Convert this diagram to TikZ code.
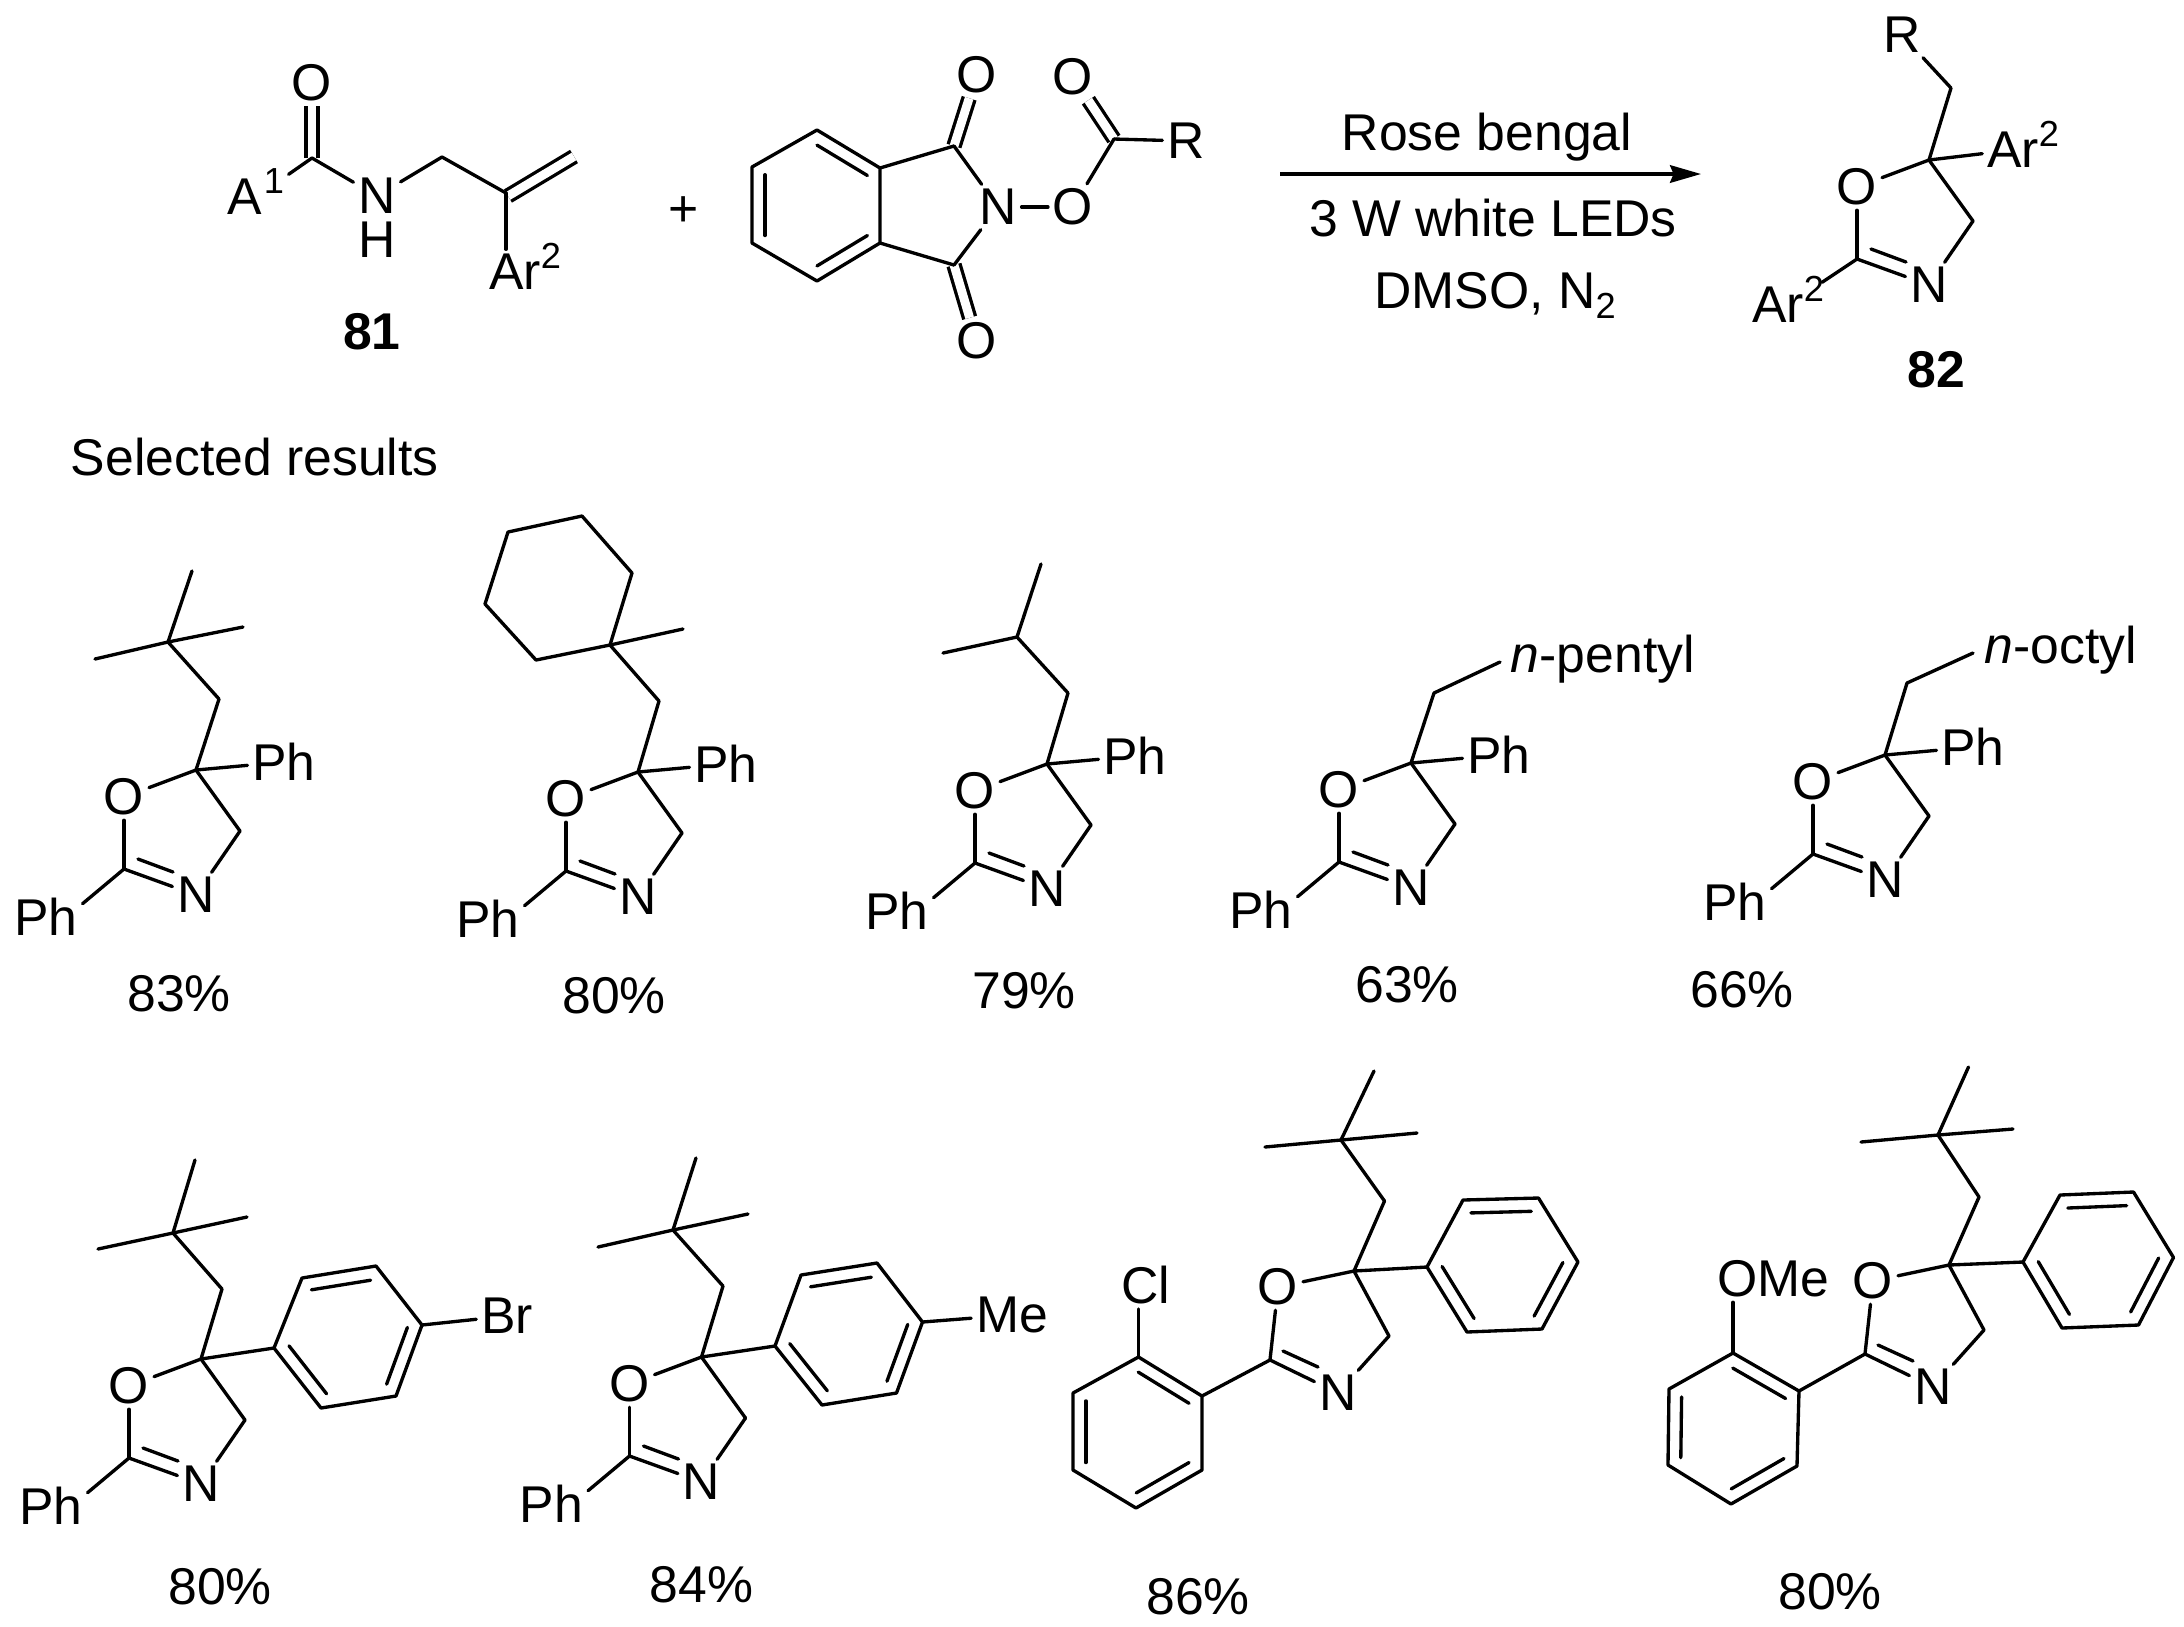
\documentclass[tikz,border=0pt]{standalone}
\usepackage{fontspec}
\setmainfont{Liberation Sans}
\usetikzlibrary{arrows.meta,calc}

\tikzset{
  txt/.style={font=\fontsize{14.7}{17}\selectfont,inner sep=1.4pt,outer sep=0pt},
  dbl/.style={double,double distance=2.5pt,line cap=butt},
  thin line/.style={draw=black,line width=.95pt,line cap=round,line join=round}
}

\newcommand{\supr}[1]{\smash{\raisebox{6pt}{\fontsize{10.3}{12}\selectfont #1}}}
\newcommand{\subr}[1]{\smash{\raisebox{-3pt}{\fontsize{10.3}{12}\selectfont #1}}}

% ring bonds of the oxazoline
\newcommand{\oxabonds}[1]{%
  \path (#1-c) edge (#1-o) (#1-o) edge (#1-c2) (#1-c2) edge (#1-n);
  \path (#1-n) edge (#1-ch) (#1-ch) edge (#1-c) (#1-d1) edge (#1-d2);
}
% neopentyl arm
\newcommand{\neopentyl}[6]{%
  \coordinate (#1-a) at (#2);
  \coordinate (#1-b) at (#3);
  \coordinate (#1-m1) at (#4);
  \coordinate (#1-m2) at (#5);
  \coordinate (#1-m3) at (#6);
  \path (#1-c) edge (#1-a) (#1-a) edge (#1-b);
  \path (#1-b) edge (#1-m1) (#1-b) edge (#1-m2) (#1-b) edge (#1-m3);
}
% benzene ring, double bonds on 1-2, 3-4, 5-6
\newcommand{\benzring}[7]{%
  \coordinate (#1-1) at (#2);
  \coordinate (#1-2) at (#3);
  \coordinate (#1-3) at (#4);
  \coordinate (#1-4) at (#5);
  \coordinate (#1-5) at (#6);
  \coordinate (#1-6) at (#7);
  \coordinate (#1-x) at ($(#1-1)!.5!(#1-4)$);
  \draw [thin line] (#1-1) -- (#1-2) -- (#1-3) -- (#1-4) -- (#1-5) -- (#1-6) -- cycle;
  \foreach \u/\v in {1/2,3/4,5/6}
    \path ($(#1-\u)!.2!(#1-x)$) edge ($(#1-\v)!.2!(#1-x)$);
}

\begin{document}
\begin{tikzpicture}[x=.01cm,y=-.01cm,
    every node/.style={txt},
    every edge/.style={thin line},
    >={Stealth[black,length=8.8pt,width=5pt,inset=1pt]}]
\useasboundingbox (0,0) rectangle (2184,1626);

% amide 81
\coordinate (am-c) at (312,158);
\coordinate (am-ch) at (442,157);
\coordinate (am-v) at (506,193);
\coordinate (am-w) at (508,196);
\coordinate (am-e) at (574,156.5);
\node (am-o) at (312,83) {O};
\node (am-a) at (256,197) {A\kern.4pt\supr{1}};
\node (am-n) at (377,196) {N};
\node (am-h) at (377,240) {H};
\node (am-ar) at (515,272) {Ar\rlap{\supr{2}}};
\node (am-lab) at (372,332) {\bfseries 81};
\path (am-c) edge[dbl] (am-o) (am-w) edge[dbl] (am-e);
\path (am-c) edge (am-a) (am-c) edge (am-n) (am-n) edge (am-ch);
\path (am-ch) edge (am-v) (am-v) edge (am-v |- am-ar.north);

\node (plus) at (684,212) {+};

% N-acyloxyphthalimide
\benzring{ph}{817,130}{880,168}{880,243}{817,281}{752,243}{752,167}
\coordinate (ph-c1) at (954,146);
\coordinate (ph-c2) at (954,265);
\coordinate (ph-c3) at (1114,139);
\node (ph-n) at (998,207) {N};
\node (ph-o1) at (976.5,75) {O};
\node (ph-o2) at (976.5,341) {O};
\node (ph-o3) at (1073,207) {O};
\node (ph-o4) at (1073,77) {O};
\node (ph-r) at (1186,141) {R};
\path (ph-c1) edge[dbl] (ph-o1) (ph-c2) edge[dbl] (ph-o2) (ph-c3) edge[dbl] (ph-o4);
\path (ph-2) edge (ph-c1) (ph-c1) edge (ph-n) (ph-3) edge (ph-c2) (ph-c2) edge (ph-n);
\path (ph-n) edge (ph-o3) (ph-o3) edge (ph-c3) (ph-c3) edge (ph-r);

% arrow and conditions
\coordinate (arr-s) at (1280,174);
\coordinate (arr-e) at (1701,174);
\path [->] (arr-s) edge[line width=1pt,line cap=butt] (arr-e);
\node [anchor=base] (cond1) at (1487,150) {Rose bengal};
\node [anchor=base] (cond2) at (1493,236) {3 W white LEDs};
\node [anchor=base] (cond3) at (1495,308) {DMSO, N\subr{2}};

\node [anchor=base west] (sel) at (66,475) {Selected results};

% oxazoline core, same offsets from the quaternary carbon
\foreach \m/\cx/\cy in {pr/1929/160,a/196/770,b/638/772,c/1047/764,d/1411/763,e/1885/755,f/201/1359,g/701.5/1357}{
  \begin{scope}[shift={(\cx,\cy)}]
    \coordinate (\m-c) at (0,0);
    \coordinate (\m-c2) at (-72,99);
    \coordinate (\m-ch) at (44,61);
    \coordinate (\m-d1) at (-58,89);
    \coordinate (\m-d2) at (-23,102);
    \node (\m-o) at (-72,27) {O};
    \node (\m-n) at (0,125) {N};
  \end{scope}
  \oxabonds{\m}
}
\foreach \m/\cx/\cy in {h/1354/1271,i/1949/1265}{
  \begin{scope}[shift={(\cx,\cy)}]
    \coordinate (\m-c) at (0,0);
    \coordinate (\m-c2) at (-84,89);
    \coordinate (\m-ch) at (35,65);
    \coordinate (\m-d1) at (-71,80);
    \coordinate (\m-d2) at (-36,96);
    \node (\m-o) at (-76,16) {O};
    \node (\m-n) at (-16,122) {N};
  \end{scope}
  \oxabonds{\m}
}
% the two phenyl labels
\foreach \m/\cx/\cy in {a/196/770,b/638/772,c/1047/764,d/1411/763,e/1885/755}{
  \begin{scope}[shift={(\cx,\cy)}]
    \node (\m-p1) at (88,-8) {Ph};
    \node (\m-p2) at (-150,147) {Ph};
  \end{scope}
  \path (\m-c) edge (\m-p1) (\m-c2) edge (\m-p2.20);
}
\foreach \m/\cx/\cy in {f/201/1359,g/701.5/1357}{
  \node (\m-p2) at (\cx-150,\cy+147) {Ph};
  \path (\m-c2) edge (\m-p2.20);
}

% product 82
\coordinate (pr-a) at (1951,88);
\node (pr-r) at (1902,35) {R};
\node (pr-ar1) at (2013,150) {Ar\rlap{\supr{2}}};
\node (pr-ar2) at (1788,305) {Ar\supr{2}};
\node (pr-lab) at (1936,370) {\bfseries 82};
\path (pr-c) edge (pr-a) (pr-a) edge (pr-r) (pr-c) edge (pr-ar1) (pr-c2) edge (pr-ar2);

% side chains, first row
\neopentyl{a}{219,699}{168,642}{192,571}{243,627}{95,659}
\coordinate (b-a) at (659,701);
\coordinate (b-b) at (610,645);
\coordinate (b-me) at (683,629);
\coordinate (b-r1) at (536,660);
\coordinate (b-r2) at (485,604);
\coordinate (b-r3) at (508,532);
\coordinate (b-r4) at (582,516);
\coordinate (b-r5) at (632,573);
\path (b-c) edge (b-a) (b-a) edge (b-b) (b-b) edge (b-me);
\draw [thin line] (b-b) -- (b-r1) -- (b-r2) -- (b-r3) -- (b-r4) -- (b-r5) -- cycle;
\coordinate (c-a) at (1068,693);
\coordinate (c-b) at (1017,637);
\coordinate (c-m1) at (1041,564);
\coordinate (c-m2) at (943,653);
\path (c-c) edge (c-a) (c-a) edge (c-b) (c-b) edge (c-m1) (c-b) edge (c-m2);
\coordinate (d-a) at (1434,693);
\coordinate (d-e) at (1500,662);
\node [anchor=base west] (d-r) at (1506,672) {\textit{n}-pentyl};
\path (d-c) edge (d-a) (d-a) edge (d-e);
\coordinate (e-a) at (1907,683);
\coordinate (e-e) at (1973,653);
\node [anchor=base west] (e-r) at (1980,663) {\textit{n}-octyl};
\path (e-c) edge (e-a) (e-a) edge (e-e);

% second row
\neopentyl{f}{222,1289}{173,1233}{195,1160}{247,1217}{98,1249}
\benzring{fr}{302,1278}{376,1266}{422,1325}{396,1396}{321,1408}{274,1348}
\node (f-br) at (507,1316) {Br};
\path (f-c) edge (fr-6) (fr-3) edge (f-br);
\neopentyl{g}{723,1286}{673,1230}{696,1158}{748,1214}{598,1247}
\benzring{gr}{801,1275}{877,1263}{922.5,1322}{896.5,1393}{822,1405}{775,1346}
\node (g-me) at (1012,1315) {Me};
\path (g-c) edge (gr-6) (gr-3) edge (g-me);
\neopentyl{h}{1384.5,1201}{1341,1140}{1374,1071}{1417,1133}{1265,1147}
\benzring{hr}{1463,1200}{1538.5,1198}{1578,1262}{1542,1329}{1467,1332}{1427,1267}
\benzring{hl}{1138.5,1357}{1202,1396}{1202,1470}{1136,1508}{1073,1470}{1073,1393}
\node (h-cl) at (1146,1285) {Cl};
\path (h-c) edge (hr-6) (h-c2) edge (hl-2) (hl-1) edge (hl-1 |- h-cl.south);
\neopentyl{i}{1979,1197}{1938,1135}{1968.5,1067}{2013,1129}{1861,1142}
\benzring{ir}{2060,1195}{2133.5,1192}{2173.5,1257.5}{2138.5,1325}{2062,1328}{2023,1262}
\benzring{il}{1733,1353}{1799,1391}{1797,1466}{1731,1504}{1668,1465}{1669,1389}
\node (i-ome) at (1773,1279) {OMe};
\path (i-c) edge (ir-6) (i-c2) edge (il-2) (il-1) edge (il-1 |- i-ome.south);

% yields
\node (a-y) at (179,994) {83\%};
\node (b-y) at (614,996) {80\%};
\node (c-y) at (1024,991) {79\%};
\node (d-y) at (1407,985) {63\%};
\node (e-y) at (1742,990) {66\%};
\node (f-y) at (220,1587) {80\%};
\node (g-y) at (701.5,1585) {84\%};
\node (h-y) at (1198,1597) {86\%};
\node (i-y) at (1830,1592) {80\%};
\end{tikzpicture}
\end{document}
